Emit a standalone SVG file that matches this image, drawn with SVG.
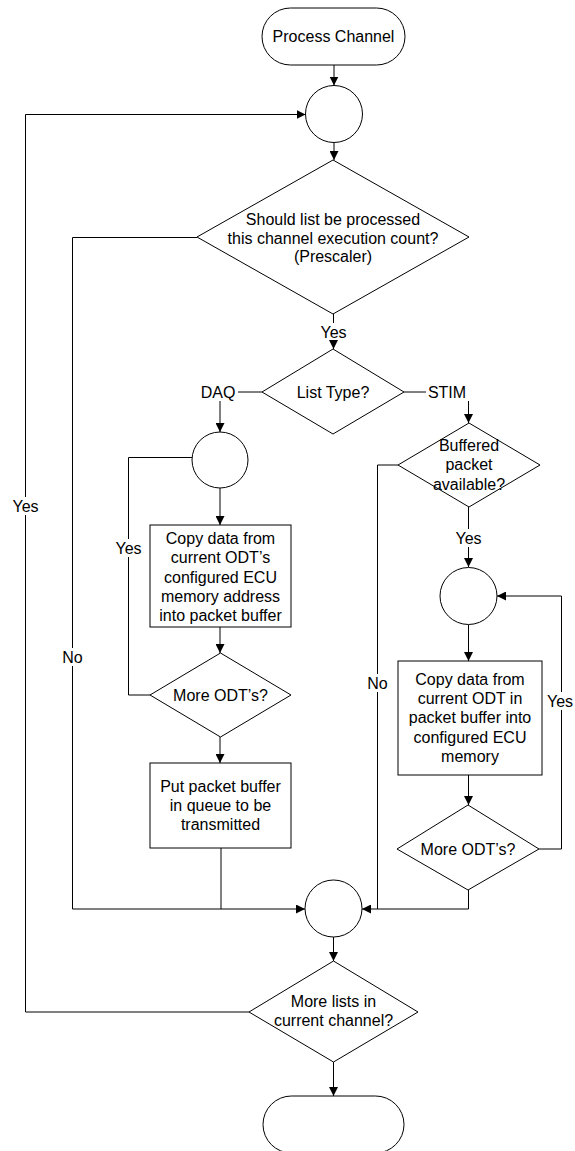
<svg xmlns="http://www.w3.org/2000/svg" width="575" height="1151" viewBox="0 0 575 1151">
<defs>
<marker id="arr" viewBox="0 0 10 10" refX="10" refY="5" markerWidth="9" markerHeight="9" markerUnits="userSpaceOnUse" orient="auto">
<path d="M0,0 L10,5 L0,10 z" fill="#000"/>
</marker>
</defs>
<style>
.s{fill:#fff;stroke:#000;stroke-width:1}
.c{fill:none;stroke:#000;stroke-width:1}
.a{fill:none;stroke:#000;stroke-width:1;marker-end:url(#arr)}
text{font-family:"Liberation Sans",Arial,sans-serif;font-size:16px;fill:#000;text-anchor:middle}
.bg{fill:#fff;stroke:none}
</style>
<rect width="575" height="1151" fill="#fff"/>
<g id="connectors">
<line class="a" x1="334" y1="65" x2="334" y2="85.5"/>
<line class="a" x1="334" y1="142.5" x2="334" y2="160"/>
<polyline class="c" points="197,237.5 72.5,237.5 72.5,909"/>
<line class="a" x1="72.5" y1="909" x2="305" y2="909"/>
<line class="a" x1="333.5" y1="314" x2="333.5" y2="349"/>
<line class="c" x1="262" y1="392" x2="238" y2="392"/>
<line class="a" x1="220" y1="401" x2="220" y2="432"/>
<line class="c" x1="404" y1="392" x2="426" y2="392"/>
<line class="a" x1="468.5" y1="401" x2="468.5" y2="423"/>
<line class="a" x1="220" y1="488" x2="220" y2="525"/>
<line class="a" x1="220" y1="627" x2="220" y2="653"/>
<polyline class="c" points="150,695 128.5,695 128.5,457.5 192,457.5"/>
<line class="a" x1="220" y1="737" x2="220" y2="763"/>
<line class="c" x1="221" y1="848" x2="221" y2="909"/>
<polyline class="c" points="398,465 377.5,465 377.5,909"/>
<line class="a" x1="468.5" y1="507" x2="468.5" y2="567"/>
<line class="a" x1="468.5" y1="625" x2="468.5" y2="661"/>
<line class="a" x1="468.5" y1="775" x2="468.5" y2="805"/>
<polyline class="c" points="539,849 561.5,849 561.5,596"/>
<line class="a" x1="561.5" y1="596" x2="497" y2="596"/>
<polyline class="c" points="468.5,890 468.5,909 377.5,909"/>
<line class="a" x1="377.5" y1="909" x2="362" y2="909"/>
<line class="a" x1="333.5" y1="937" x2="333.5" y2="961"/>
<polyline class="c" points="249,1012 25.5,1012 25.5,114.5"/>
<line class="a" x1="25.5" y1="114.5" x2="305.5" y2="114.5"/>
<line class="a" x1="333.5" y1="1062" x2="333.5" y2="1096"/>
<rect class="bg" x="320" y="323" width="27" height="17"/>
<text x="333.5" y="337.5">Yes</text>
<text x="218" y="397.5">DAQ</text>
<text x="447" y="397.5">STIM</text>
<rect class="bg" x="115" y="539" width="27" height="18"/>
<text x="128.5" y="553.5">Yes</text>
<rect class="bg" x="62" y="648" width="21" height="18"/>
<text x="72.5" y="662.5">No</text>
<rect class="bg" x="455" y="529" width="27" height="18"/>
<text x="468.5" y="543.5">Yes</text>
<rect class="bg" x="367" y="674" width="21" height="18"/>
<text x="377.5" y="688.5">No</text>
<rect class="bg" x="547" y="692" width="27" height="18"/>
<text x="560" y="706.5">Yes</text>
<rect class="bg" x="12" y="497" width="27" height="18"/>
<text x="25.5" y="511.5">Yes</text>
</g>
<g id="start">
<rect class="s" x="262" y="8" width="143" height="57" rx="28.5" ry="28.5"/>
<text x="333.5" y="42">Process Channel</text>
</g>
<g id="join1"><circle class="s" cx="334" cy="114" r="28.5"/></g>
<g id="prescaler">
<polygon class="s" points="333,160 469,237 333,314 197,237"/>
<text x="333" y="225">Should list be processed</text>
<text x="333" y="243.5">this channel execution count?</text>
<text x="333" y="262">(Prescaler)</text>
</g>
<g id="listtype">
<polygon class="s" points="333,349 404,392 333,434 262,392"/>
<text x="333" y="397.5">List Type?</text>
</g>
<g id="join2"><circle class="s" cx="220" cy="460" r="28"/></g>
<g id="copydaq">
<rect class="s" x="150" y="525" width="141" height="102"/>
<text x="220.5" y="544">Copy data from</text>
<text x="220.5" y="563">current ODT’s</text>
<text x="220.5" y="582.5">configured ECU</text>
<text x="220.5" y="602">memory address</text>
<text x="220.5" y="621">into packet buffer</text>
</g>
<g id="moreodt1">
<polygon class="s" points="220.5,653 291,695 220.5,737 150,695"/>
<text x="220.5" y="700.5">More ODT’s?</text>
</g>
<g id="queue">
<rect class="s" x="150" y="763" width="141" height="85"/>
<text x="220.5" y="792">Put packet buffer</text>
<text x="220.5" y="811">in queue to be</text>
<text x="220.5" y="830">transmitted</text>
</g>
<g id="buffered">
<polygon class="s" points="469,423 540,465 469,507 398,465"/>
<text x="469" y="450.5">Buffered</text>
<text x="469" y="470">packet</text>
<text x="469" y="489.5">available?</text>
</g>
<g id="join3"><circle class="s" cx="468.5" cy="596" r="28.5"/></g>
<g id="copystim">
<rect class="s" x="398" y="661" width="144" height="114"/>
<text x="470" y="684.5">Copy data from</text>
<text x="470" y="703.5">current ODT in</text>
<text x="470" y="723">packet buffer into</text>
<text x="470" y="742.5">configured ECU</text>
<text x="470" y="761.5">memory</text>
</g>
<g id="moreodt2">
<polygon class="s" points="468,805 539,849 468,890 397,849"/>
<text x="468" y="854.5">More ODT’s?</text>
</g>
<g id="join4"><circle class="s" cx="333.5" cy="908.5" r="28.5"/></g>
<g id="morelists">
<polygon class="s" points="333.5,961 418,1012 333.5,1062 249,1012"/>
<text x="333.5" y="1007">More lists in</text>
<text x="333.5" y="1026">current channel?</text>
</g>
<g id="end">
<rect class="s" x="263" y="1096" width="141" height="57" rx="28.5" ry="28.5"/>
</g>
</svg>
